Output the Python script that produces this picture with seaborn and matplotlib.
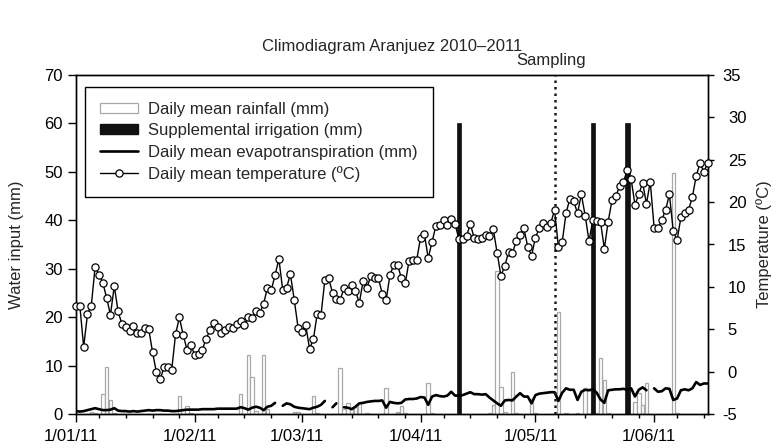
import numpy as np
import pandas as pd
import matplotlib
matplotlib.use("Agg")
import matplotlib.pyplot as plt
import matplotlib.dates as mdates
import matplotlib.transforms as mtransforms
from matplotlib.patches import Patch
from matplotlib.lines import Line2D
import seaborn as sns

sns.set_style("ticks")
plt.rcParams["font.family"] = ["Liberation Sans", "DejaVu Sans"]
plt.rcParams["axes.unicode_minus"] = False

# ---- data ---------------------------------------------------------------
dates = pd.date_range("2011-01-01", "2011-06-15", freq="D")

# daily mean temperature (degC)
temp_jan = [7.8, 7.8, 2.9, 6.8, 7.8, 12.4, 11.4, 10.5, 8.7, 6.7, 10.1, 7.1, 5.6, 5.3, 4.8, 5.4,
            4.5, 4.5, 5.2, 5.0, 2.3, -0.1, -0.9, 0.5, 0.6, 0.2, 4.4, 6.4, 4.3, 2.6, 3.1]
temp_feb = [2.0, 2.1, 2.6, 3.9, 4.9, 5.7, 5.3, 4.6, 4.9, 5.3, 5.1, 5.6, 6.0, 5.5, 6.4, 6.3,
            7.1, 6.9, 8.0, 9.9, 9.6, 11.4, 13.3, 9.6, 9.9, 11.5, 8.5, 5.2]
temp_mar = [4.7, 5.5, 2.7, 3.8, 6.8, 6.7, 10.8, 11.0, 9.3, 8.6, 8.4, 9.9, 9.5, 10.2, 9.5, 8.1,
            10.7, 9.9, 11.3, 11.1, 11.0, 9.2, 8.4, 11.4, 12.6, 12.6, 11.0, 10.4, 13.1, 13.2, 13.2]
temp_apr = [15.8, 16.2, 13.4, 15.3, 17.2, 17.3, 17.9, 17.3, 18.0, 17.4, 15.7, 15.7, 16.0, 17.4,
            15.8, 15.6, 15.8, 16.1, 16.0, 16.8, 14.0, 11.3, 12.5, 14.1, 14.0, 15.4, 16.1, 16.9,
            14.7, 13.7]
temp_may = [15.8, 16.9, 17.5, 17.1, 17.5, 19.1, 14.7, 15.3, 18.7, 20.4, 20.1, 18.7, 20.9, 18.4,
            15.4, 17.9, 17.8, 17.7, 14.5, 17.7, 20.2, 20.7, 21.9, 22.4, 23.8, 22.7, 19.7, 20.9,
            22.3, 19.8, 22.4]
temp_jun = [17.0, 16.9, 17.9, 19.1, 20.9, 16.6, 15.5, 18.2, 18.7, 19.1, 20.6, 23.1, 24.6, 23.6, 24.6]

# daily mean evapotranspiration (mm); NaN = no record
nan = np.nan
et_jan = [0.6, 0.5, 0.6, 0.8, 1.0, 1.2, 1.0, 0.8, 0.8, 0.9, 1.2, 0.7, 0.6, 0.6, 0.5, 0.6,
          0.5, 0.6, 0.7, 0.8, 0.7, 0.8, 0.8, 0.7, 0.7, 0.6, 0.6, 0.7, 0.8, 0.9, 0.9]
et_feb = [0.9, 0.9, 1.0, 1.0, 1.0, 1.0, 1.1, 1.1, 1.1, 1.1, 1.1, 1.1, 1.4, 1.2, 0.9, 1.3,
          1.5, 1.3, 0.8, 1.5, 1.7, 2.3, nan, 1.7, 2.2, 2.0, 1.5, 1.3]
et_mar = [1.2, 1.1, 1.0, 1.3, 1.5, 1.9, 2.7, nan, 1.4, 2.2, nan, 1.4, 1.3, 1.0, 1.5, 2.2,
          2.3, 2.5, 2.6, 2.7, 2.7, 2.8, 1.3, 2.5, 2.3, 2.2, 2.3, 3.0, 3.1, 3.1, 3.2]
et_apr = [3.5, 3.4, 1.9, 3.6, 3.9, 3.7, 3.6, 3.8, 4.6, 3.8, 3.8, 3.9, 4.2, 4.5, 4.1, 4.1,
          4.0, 4.1, 3.4, 2.8, 2.2, 1.7, 2.8, 2.9, 2.8, 3.6, 4.3, 3.6, 3.6, 2.2]
et_may = [3.9, 4.2, 4.3, 4.4, 4.5, 4.5, 2.7, 4.4, 5.3, 5.0, 5.0, 2.9, 4.6, 5.0, 4.9, 5.1,
          4.4, 3.0, 2.3, 4.9, 5.0, 5.1, 5.1, 5.2, 5.0, 5.3, 3.6, 5.0, 5.5, 4.9, nan]
et_jun = [5.3, 4.6, 4.7, 5.3, 5.2, 2.9, 3.2, 4.9, 5.1, 4.9, 5.3, 6.6, 6.0, 6.3, 6.3]

# daily mean rainfall (mm), rainy days only
rain_dates = ["2011-01-05", "2011-01-06", "2011-01-08", "2011-01-09", "2011-01-10", "2011-01-11",
              "2011-01-28", "2011-01-30", "2011-01-31", "2011-02-13", "2011-02-15", "2011-02-16",
              "2011-02-17", "2011-02-19", "2011-02-20", "2011-02-27", "2011-02-28", "2011-03-04",
              "2011-03-05", "2011-03-11", "2011-03-12", "2011-03-13", "2011-03-14", "2011-03-15",
              "2011-03-16", "2011-03-18", "2011-03-23", "2011-03-26", "2011-03-27", "2011-03-28",
              "2011-04-03", "2011-04-04", "2011-04-19", "2011-04-20", "2011-04-21", "2011-04-22",
              "2011-04-23", "2011-04-25", "2011-04-26", "2011-04-30", "2011-05-01", "2011-05-07",
              "2011-05-09", "2011-05-12", "2011-05-14", "2011-05-15", "2011-05-17", "2011-05-18",
              "2011-05-19", "2011-05-20", "2011-05-27", "2011-05-28", "2011-05-29", "2011-05-30",
              "2011-06-06", "2011-06-07"]
rain_mm = [0.4, 0.3, 4.1, 9.7, 2.8, 0.3,
           3.7, 1.6, 0.3, 4.1, 12.1, 7.7,
           0.6, 12.1, 1.0, 0.5, 0.4, 3.8,
           0.3, 9.5, 1.1, 2.3, 1.1, 1.5,
           2.3, 0.2, 5.3, 0.4, 1.6, 0.3,
           6.3, 0.2, 0.3, 1.8, 29.5, 5.5,
           0.5, 8.6, 0.2, 3.0, 0.2, 21.0,
           0.2, 0.2, 5.3, 5.1, 0.3, 11.6,
           7.0, 0.3, 2.4, 4.4, 1.9, 6.3,
           49.7, 0.3]

# supplemental irrigation events (mm)
irrigation_dates = ["2011-04-11", "2011-05-16", "2011-05-25"]
irrigation_mm = [60, 60, 60]

sampling_date = "2011-05-06"

temperature = temp_jan + temp_feb + temp_mar + temp_apr + temp_may + temp_jun
et = et_jan + et_feb + et_mar + et_apr + et_may + et_jun

df = pd.DataFrame({"date": dates, "temperature": temperature, "et": et})
# split the evapotranspiration record into runs so gaps stay open
df["run"] = df["et"].isna().cumsum()
et_df = df.dropna(subset=["et"])

# ---- figure -------------------------------------------------------------
fig = plt.figure(figsize=(7.78, 4.48), dpi=100)
ax = fig.add_axes([76 / 778, 1 - 414 / 448, (707.7 - 76) / 778, (414 - 75) / 448])
ax2 = ax.twinx()

ax.bar(pd.to_datetime(rain_dates), rain_mm, width=0.9, facecolor="white",
       edgecolor="#a8a8a8", linewidth=0.9, zorder=2)
ax.bar(pd.to_datetime(irrigation_dates), irrigation_mm, width=1.2, color="#111111",
       edgecolor="#111111", linewidth=0.5, zorder=3)
sns.lineplot(data=et_df, x="date", y="et", units="run", estimator=None, ax=ax,
             color="black", linewidth=1.9, zorder=4, legend=False)
ax.axvline(pd.Timestamp(sampling_date), color="#1a1a1a", linestyle=(0, (1, 1.6)),
           linewidth=1.8, zorder=5)

sns.lineplot(data=df, x="date", y="temperature", ax=ax2, color="black", linewidth=1.0,
             marker="o", markersize=5.2, markerfacecolor="white", markeredgecolor="black",
             markeredgewidth=0.9, clip_on=False, zorder=6, legend=False)

# axes ranges and ticks
xmin, xmax = pd.Timestamp("2011-01-01"), pd.Timestamp("2011-06-15")
ax.set_xlim(xmin, xmax)
ax.set_ylim(0, 70)
ax.set_yticks(np.arange(0, 71, 10))
ax2.set_ylim(-5, 35)
ax2.set_yticks(np.arange(-5, 36, 5))

ax.xaxis.set_major_locator(mdates.MonthLocator(bymonthday=1))
ax.xaxis.set_major_formatter(plt.FuncFormatter(
    lambda v, pos: (lambda d: f"{d.day}/{d.month:02d}/{d.year % 100:02d}")(mdates.num2date(v))))
ax.xaxis.set_minor_locator(mdates.DayLocator(bymonthday=[7, 14, 21, 28]))

for a in (ax, ax2):
    for s in a.spines.values():
        s.set_color("black")
        s.set_linewidth(1.0)
    a.set_xlabel("")

ax.tick_params(axis="y", which="major", direction="out", length=5.8, width=1.0,
               labelsize=12, pad=3.5, colors="black", right=False)
ax.tick_params(axis="x", which="major", direction="out", length=5.8, width=1.0,
               labelsize=12, pad=5, colors="black", top=False)
ax.tick_params(axis="x", which="minor", direction="out", length=3, width=1.0,
               top=False, colors="black")
ax2.tick_params(axis="y", direction="out", length=4.5, width=1.0, labelsize=12,
                pad=10, colors="black")

# date labels sit slightly left of their ticks; the minus sign of -5 hangs left
shift_x = mtransforms.ScaledTranslation(-5 / 100, 0, fig.dpi_scale_trans)
for lab in ax.get_xticklabels():
    lab.set_transform(lab.get_transform() + shift_x)
shift_minus = mtransforms.ScaledTranslation(-6 / 100, 0, fig.dpi_scale_trans)
for tick in ax2.yaxis.get_major_ticks():
    if tick.get_loc() < 0:
        tick.label2.set_transform(tick.label2.get_transform() + shift_minus)

ax.set_ylabel("Water input (mm)", fontsize=12)
ax.yaxis.set_label_coords(-0.082, 0.5)
ax2.set_ylabel("Temperature (ºC)", fontsize=12)
ax2.yaxis.set_label_coords(1.077, 0.5)

# titles and annotations
fig.text(0.504, 1 - 47 / 448, "Climodiagram Aranjuez 2010–2011", ha="center",
         va="center", fontsize=12)
trans = mtransforms.blended_transform_factory(ax.transData, ax.transAxes)
ax.text(pd.Timestamp(sampling_date) - pd.Timedelta(days=1), 1 + 15 / 339, "Sampling",
        transform=trans, ha="center", va="center", fontsize=12)

handles = [
    Patch(facecolor="white", edgecolor="#a8a8a8", linewidth=0.9),
    Patch(facecolor="#111111", edgecolor="#111111"),
    Line2D([], [], color="black", linewidth=1.9),
    Line2D([], [], color="black", linewidth=1.0, marker="o", markersize=5.2,
           markerfacecolor="white", markeredgecolor="black", markeredgewidth=0.9),
]
labels = ["Daily mean rainfall (mm)", "Supplemental irrigation (mm)",
          "Daily mean evapotranspiration (mm)", "Daily mean temperature (ºC)"]
leg = ax2.legend(handles, labels, loc="upper left", bbox_to_anchor=(9 / 631.7, 1 - 12 / 339),
                 borderaxespad=0, fontsize=12, frameon=True, fancybox=False,
                 edgecolor="black", framealpha=1, handlelength=2.3, handleheight=0.55,
                 handletextpad=0.6, borderpad=0.9, labelspacing=0.38)
leg.get_frame().set_linewidth(1.0)

fig.savefig("out.png", dpi=100)
